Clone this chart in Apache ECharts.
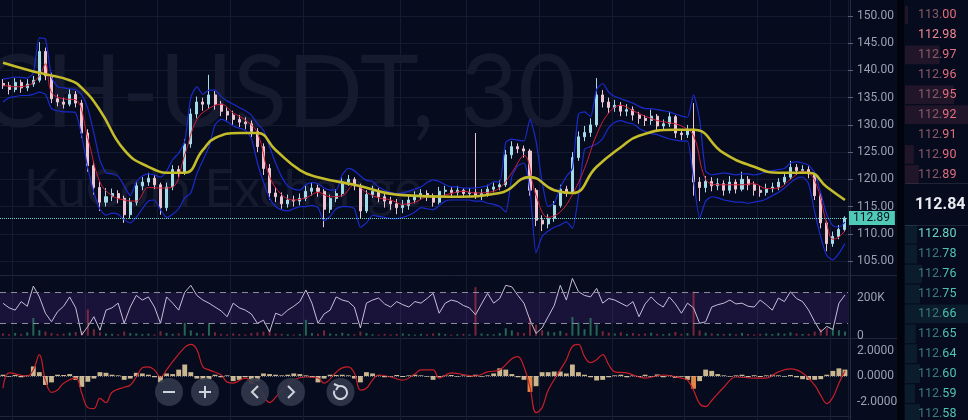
<!DOCTYPE html>
<html>
<head>
<meta charset="utf-8">
<title>BCH-USDT, 30</title>
<script src="https://cdn.jsdelivr.net/npm/echarts@6/dist/echarts.min.js"></script>
<style>
  html, body { margin: 0; padding: 0; background: #060b1e; }
  #chart { width: 968px; height: 420px; }
</style>
</head>
<body>
<div id="chart"></div>
<script>
// 30 min candles (open = previous close)
const firstOpen = 137.6;
const closes = [
  137.2, 136.5, 137.8, 136.8, 137.5, 138.2, 143.5, 139.0, 134.8, 134.2,
  133.8, 135.6, 134.0, 128.5, 122.5, 118.5, 115.8, 116.8, 117.4, 116.5,
  113.5, 115.8, 118.8, 119.5, 120.2, 119.0, 114.8, 118.6, 121.8, 121.2,
  126.5, 132.0, 134.2, 133.8, 135.5, 133.8, 132.5, 131.8, 131.0, 130.5,
  130.2, 128.8, 126.0, 122.0, 117.5, 116.8, 115.5, 116.2, 116.0, 116.5,
  117.8, 118.4, 117.8, 114.5, 116.5, 117.4, 119.5, 120.0, 118.8, 114.2,
  117.2, 117.8, 116.8, 116.0, 115.5, 114.8, 115.2, 116.2, 116.8, 117.4,
  116.9, 115.8, 117.8, 118.0, 117.6, 118.0, 117.4, 117.6, 117.0, 117.4,
  118.2, 118.6, 119.0, 124.5, 126.0, 125.6, 125.2, 118.0, 112.5, 111.8,
  112.8, 115.2, 118.2, 117.6, 124.0, 127.8, 128.6, 130.0, 135.5, 134.2,
  133.2, 133.6, 132.5, 132.8, 131.8, 131.2, 130.8, 131.6, 129.8, 130.2,
  131.5, 128.5, 128.2, 129.2, 119.5, 118.5, 119.6, 118.8, 119.2, 118.0,
  119.5, 118.2, 120.0, 119.0, 118.0, 117.6, 118.3, 118.6, 119.5, 120.4,
  122.2, 121.6, 121.8, 121.0, 117.0, 112.0, 108.2, 109.5, 110.8, 112.89
];
const highs = [
  138.4, 137.9, 138.6, 138.3, 138.4, 139.0, 145.2, 144.2, 139.6, 135.6,
  135.0, 136.6, 136.2, 134.6, 129.2, 123.4, 119.6, 118.4, 118.3, 118.0,
  117.0, 116.6, 119.6, 120.4, 121.2, 120.8, 119.4, 119.4, 122.6, 122.5,
  127.4, 133.0, 135.2, 135.0, 139.2, 136.2, 134.4, 133.2, 132.6, 131.8,
  131.4, 130.8, 129.4, 126.6, 122.8, 118.6, 117.6, 117.2, 117.0, 117.4,
  118.8, 119.4, 119.0, 118.2, 117.2, 118.2, 120.4, 120.8, 120.4, 119.2,
  118.0, 118.8, 118.4, 117.6, 116.8, 116.4, 116.2, 117.0, 117.8, 118.2,
  118.0, 117.4, 118.6, 118.8, 118.6, 118.8, 118.4, 118.4, 128.5, 118.2,
  119.0, 119.4, 119.8, 125.4, 127.0, 126.6, 126.2, 125.6, 118.4, 113.4,
  113.6, 116.0, 119.0, 118.8, 125.0, 128.8, 129.8, 131.2, 138.6, 136.4,
  135.0, 134.6, 134.2, 133.8, 133.4, 132.4, 131.8, 132.8, 132.0, 131.0,
  132.4, 131.8, 129.2, 130.0, 134.0, 120.4, 120.6, 120.4, 120.2, 119.8,
  120.6, 120.0, 121.4, 120.6, 119.6, 118.8, 119.2, 119.4, 120.2, 121.2,
  123.4, 122.8, 122.6, 122.4, 121.4, 117.4, 112.4, 110.4, 111.6, 113.2
];
const lows = [
  136.6, 135.6, 136.0, 135.9, 136.2, 137.0, 137.8, 138.2, 134.0, 133.4,
  133.0, 133.4, 133.2, 127.6, 121.4, 117.2, 114.2, 115.0, 116.0, 115.6,
  112.0, 112.8, 115.2, 118.0, 118.8, 118.2, 113.5, 114.2, 118.0, 120.4,
  120.8, 125.8, 131.2, 132.6, 133.0, 132.8, 131.6, 130.8, 130.0, 129.6,
  129.2, 127.8, 125.0, 120.8, 116.2, 115.8, 114.6, 114.8, 115.0, 115.2,
  116.0, 117.0, 116.8, 111.2, 113.8, 115.8, 116.8, 118.8, 118.0, 112.8,
  113.8, 116.6, 115.8, 114.8, 114.4, 113.6, 113.8, 114.4, 115.6, 116.2,
  116.0, 115.0, 115.4, 117.0, 116.8, 117.0, 116.6, 116.8, 116.4, 116.2,
  116.8, 117.6, 118.0, 118.6, 123.8, 124.8, 124.0, 117.0, 111.4, 110.5,
  111.0, 112.2, 114.8, 116.8, 117.2, 123.4, 127.0, 127.8, 129.6, 133.2,
  132.2, 132.4, 131.6, 131.6, 130.8, 130.2, 129.8, 130.0, 128.8, 129.0,
  129.6, 127.6, 127.2, 127.6, 117.0, 116.0, 117.6, 117.8, 118.0, 117.0,
  117.4, 117.4, 117.8, 118.0, 117.0, 116.8, 117.0, 117.6, 118.0, 119.0,
  120.0, 120.8, 121.0, 120.2, 116.2, 111.0, 106.8, 107.6, 109.0, 110.4
];

// bollinger bands (blue)
const bandUpper = [
  138.4, 138.6, 138.8, 138.7, 138.6, 139.5, 146.0, 145.8, 138.8, 137.0,
  136.8, 136.6, 136.5, 135.5, 133.0, 128.5, 123.5, 121.2, 121.0, 120.6,
  118.8, 117.0, 119.5, 120.6, 121.0, 120.8, 120.4, 121.5, 123.6, 124.8,
  127.0, 135.0, 137.0, 135.6, 136.4, 136.4, 135.2, 134.4, 133.8, 133.2,
  132.6, 131.8, 130.2, 129.0, 126.0, 123.0, 120.5, 118.8, 118.2, 118.0,
  119.0, 119.4, 119.2, 118.4, 118.0, 118.0, 120.8, 122.0, 121.6, 120.6,
  119.8, 119.6, 118.6, 118.0, 117.6, 117.4, 117.5, 117.8, 118.2, 118.6,
  119.4, 119.9, 119.6, 119.0, 118.6, 118.6, 118.4, 118.4, 118.4, 118.6,
  118.8, 119.6, 119.5, 126.8, 127.4, 127.2, 127.0, 131.0, 127.0, 119.5,
  115.0, 115.6, 118.5, 120.5, 122.0, 132.0, 132.4, 131.5, 136.5, 137.6,
  136.0, 135.2, 134.8, 134.4, 134.0, 133.4, 133.0, 133.0, 132.8, 132.6,
  132.4, 132.0, 131.6, 131.4, 135.5, 131.0, 121.5, 120.8, 121.0, 121.2,
  121.0, 120.8, 121.0, 121.0, 120.8, 121.0, 121.4, 121.6, 121.8, 122.0,
  123.0, 123.2, 123.0, 122.6, 121.2, 117.5, 113.5, 111.5, 111.2, 112.2
];
const bandLower = [
  134.2, 135.0, 135.2, 135.4, 135.4, 135.6, 136.0, 135.6, 133.0, 132.6,
  132.4, 132.4, 132.2, 128.0, 122.0, 117.6, 114.5, 113.4, 113.8, 113.6,
  112.6, 112.0, 113.0, 114.6, 116.0, 116.2, 114.4, 113.0, 113.6, 114.6,
  116.6, 117.5, 121.0, 123.5, 126.0, 130.0, 131.0, 130.6, 129.8, 129.4,
  129.0, 127.5, 123.0, 119.5, 116.5, 115.0, 114.4, 114.2, 114.6, 115.0,
  115.0, 115.2, 114.8, 112.4, 113.2, 114.6, 115.0, 115.0, 114.6, 111.2,
  112.0, 113.4, 113.2, 113.0, 112.8, 112.8, 113.0, 113.4, 114.0, 114.8,
  114.6, 114.4, 115.2, 116.0, 116.2, 116.2, 116.2, 116.2, 116.0, 116.0,
  115.6, 115.4, 115.0, 114.0, 120.5, 122.5, 123.0, 118.0, 106.5, 109.5,
  110.5, 111.2, 111.6, 112.2, 111.0, 117.0, 125.5, 126.0, 126.5, 127.5,
  129.5, 130.5, 130.8, 130.4, 130.2, 129.4, 128.8, 128.4, 128.2, 127.8,
  127.4, 127.2, 127.0, 127.0, 120.0, 112.9, 116.0, 116.8, 116.6, 116.2,
  116.0, 115.8, 115.8, 115.6, 115.8, 116.0, 116.4, 117.0, 117.6, 118.4,
  119.4, 120.2, 120.4, 119.2, 114.0, 109.4, 106.0, 105.2, 106.4, 108.2
];

// fast average (red), read at candle indexes
const fastIdx = [0, 2, 4, 6, 7, 8, 10, 12, 14, 16, 18, 20, 22, 24, 26, 28, 30, 32, 34, 36,
  38, 40, 42, 44, 46, 48, 50, 52, 54, 56, 58, 60, 62, 64, 66, 68, 70, 72, 74, 76,
  78, 80, 82, 84, 86, 88, 90, 92, 94, 96, 98, 100, 102, 104, 106, 108, 110, 112, 114, 116,
  118, 120, 122, 124, 126, 128, 130, 132, 134, 136, 137, 138, 139];
const fastVal = [137.3, 137.0, 137.2, 139.0, 141.2, 136.0, 134.8, 134.6, 127.5, 119.5, 117.0, 116.2, 116.0, 118.5, 118.4, 118.6, 124.5, 131.0, 133.0, 133.8,
  132.2, 130.9, 128.5, 120.5, 117.2, 116.2, 116.6, 117.6, 116.8, 117.0, 119.0, 117.6, 116.6, 116.2, 115.4, 115.8, 116.8, 116.9, 117.4, 117.8,
  117.5, 117.6, 118.4, 121.2, 124.4, 117.0, 113.0, 114.0, 117.2, 122.0, 128.2, 132.2, 133.6, 132.6, 131.6, 130.8, 130.4, 129.8, 128.0, 120.0,
  119.0, 119.0, 119.0, 119.2, 118.3, 118.4, 120.0, 121.5, 119.8, 111.8, 109.0, 109.4, 110.6];

// slow average (yellow)
const slowIdx = [0, 5, 7, 11, 13, 16, 20, 24, 28, 30, 33, 35, 39, 42, 45, 49, 52, 58, 66, 74,
  82, 87, 91, 94, 98, 102, 105, 111, 114, 119, 124, 128, 133, 136, 139];
const slowVal = [141.4, 139.8, 139.3, 138.2, 136.8, 132.7, 125.4, 122.3, 121.2, 121.2, 125.4, 127.6, 128.5, 128.5, 125.4, 121.7, 120.4, 119.0, 117.1, 116.8,
  117.5, 120.4, 118.0, 117.5, 122.3, 125.9, 128.0, 129.1, 129.1, 124.8, 122.3, 121.2, 121.2, 118.6, 116.2];

// volume in K
const volumes = [
  12, 8, 15, 10, 18, 95, 30, 22, 14, 9,
  11, 16, 20, 25, 140, 35, 18, 12, 10, 8,
  22, 14, 12, 9, 11, 7, 24, 15, 10, 12,
  68, 28, 15, 12, 68, 18, 10, 8, 12, 9,
  7, 14, 18, 22, 30, 12, 10, 8, 6, 9,
  85, 14, 10, 28, 12, 9, 16, 10, 8, 22,
  14, 8, 6, 10, 7, 9, 12, 8, 6, 10,
  8, 12, 14, 9, 6, 8, 10, 7, 260, 12,
  9, 8, 14, 40, 28, 18, 14, 95, 60, 30,
  22, 18, 26, 14, 100, 70, 35, 95, 60, 24,
  16, 12, 18, 10, 14, 9, 12, 16, 10, 8,
  12, 20, 10, 14, 237, 28, 16, 12, 10, 9,
  11, 8, 14, 9, 7, 10, 12, 9, 14, 11,
  18, 12, 9, 10, 22, 35, 40, 38, 30, 22
];

// oscillator (white line in volume pane)
const osc = [
  55.8, 50, 47, 58, 52, 78, 64, 43, 32, 45,
  52, 64, 50, 15, 26, 38.5, 21, 47, 50, 56,
  30, 51, 66, 60, 64, 51, 30, 64, 56, 47,
  70, 79, 66, 60, 56, 51, 46, 38.5, 56, 50,
  47, 42, 30, 34, 19, 43, 40, 47, 52, 58,
  73, 56, 30, 42, 47, 64, 60, 58, 51, 24,
  56, 60, 62.6, 55, 51, 58, 54, 51, 58, 56,
  62, 68.7, 43, 56, 60, 58, 53, 50, 41, 55,
  68.7, 56, 62, 79, 77, 66, 56, 34, 17, 24,
  38.5, 53, 79, 60, 88, 70.8, 66, 64, 75, 56,
  62, 60, 56, 52, 58, 38.5, 55, 64, 56, 51,
  64, 55, 43, 56, 50, 30, 32, 51, 54, 56,
  60, 55, 56, 52, 51, 60, 54, 47, 62.6, 58,
  70.8, 62, 58, 47, 32, 19, 26, 22, 56, 66.5
];

// MACD line (red) and histogram
const macdIdx = [0, 1, 4, 5, 6, 7, 8, 9, 10, 12, 13, 14, 15, 16, 17, 18, 20, 21, 22, 23,
  24, 25, 26, 27, 28, 30, 31, 32, 33, 34, 36, 37, 38, 40, 41, 42, 43, 44, 45, 46,
  48, 50, 52, 53, 55, 56, 57, 58, 59, 60, 61, 62, 64, 66, 68, 69, 71, 72, 74, 78,
  80, 82, 84, 85, 86, 87, 88, 89, 90, 92, 93, 94, 95, 96, 97, 98, 99, 100, 101, 103,
  106, 109, 112, 113, 114, 115, 116, 117, 119, 121, 124, 126, 128, 130, 132, 134, 135, 136, 137, 138, 139];
const macdVal = [-0.96, 0.24, 0, 0.48, 1.68, -0.32, -1.28, -1.1, -0.56, -0.16, -1.36, -2.48, -2.56, -1.76, -2.08, -1.28, -0.88, -0.72, -0.08, 0.64,
  0.72, 0.48, -0.08, 0.48, 1.12, 2.24, 2.48, 2.08, 0.72, 0.48, 0.08, -0.48, -0.56, -0.16, -0.4, -0.72, -1.52, -2.08, -1.68, -1.12,
  -0.32, -0.08, -0.16, -0.56, 0.3, 0.64, 0.72, 0.24, -1.1, -0.96, -0.32, 0.08, -0.08, -0.32, 0.16, 0.48, 0.48, -0.16, 0.24, 0,
  0.32, 0.48, 1.36, 1.52, 0.72, -0.88, -2.88, -2.48, -1.12, 0.48, 1.28, 2.32, 2.48, 1.52, 1.04, 1.28, 1.68, 0.88, 0.32, 0.24,
  -0.16, 0.08, -0.16, -0.32, -1.12, -2.16, -2.4, -1.92, -0.88, -0.08, -0.16, -0.16, 0.32, 0.56, 0.24, -0.72, -1.52, -2.16, -1.68, -0.56, 0.4];
const hist = [
  0.1, -0.05, 0.08, -0.1, 0.05, 0.75, 0.3, -0.7, -0.5, 0.1,
  0.08, 0.15, -0.3, -0.85, -0.45, -0.2, 0.3, 0.25, 0.1, 0.05,
  -0.3, -0.2, 0.25, 0.2, 0.1, -0.1, -0.5, 0.2, 0.15, 0.5,
  0.9, 0.3, -0.2, -0.3, -0.25, 0.1, -0.1, 0.05, -0.4, -0.3,
  -0.1, -0.6, -0.4, 0.2, 0.15, 0.1, 0.05, 0.1, 0.2, 0.15,
  0.05, -0.1, -0.5, -0.2, 0.1, 0.08, 0.1, 0.05, -0.2, -0.5,
  0.3, 0.2, 0.05, -0.1, -0.05, 0.08, -0.08, 0.05, 0.1, 0.05,
  -0.05, -0.3, -0.1, 0.05, 0.08, -0.05, 0.04, -0.06, 0.1, -0.05,
  0.05, 0.2, 0.6, 0.5, 0.15, -0.1, -0.3, -1.25, -0.8, 0.3,
  0.3, 0.35, 0.35, 0.2, 0.9, 0.3, 0.1, -0.1, -0.35, -0.3,
  -0.1, 0.05, 0.1, -0.1, 0.05, -0.08, 0.1, -0.05, 0.12, -0.1,
  0.08, -0.15, -0.05, -0.3, -1.0, -0.4, 0.5, 0.4, 0.15, 0.05,
  -0.05, 0.05, 0.1, -0.1, 0.06, -0.08, 0.05, 0.1, 0.05, -0.05,
  0.08, -0.1, -0.25, -0.3, -0.3, -0.25, 0.1, 0.4, 0.6, 0.5
];

// order book
const askPrices = ['113.00', '112.98', '112.97', '112.96', '112.95', '112.92', '112.91', '112.90', '112.89'];
const askDepth = [5, 0, 55, 0, 78, 100, 0, 14, 22];
const bidPrices = ['112.80', '112.78', '112.76', '112.75', '112.66', '112.65', '112.64', '112.60', '112.59', '112.58'];
const bidDepth = [19, 19, 27, 24, 100, 17, 19, 24, 16, 24];
const lastTrade = 112.84;
const askHot = 1, bidHot = 0;

const opens = closes.map((c, i) => (i === 0 ? firstOpen : closes[i - 1]));
const cats = closes.map((_, i) => String(i));
const candles = closes.map((c, i) => [opens[i], c, lows[i], highs[i]]);
const pairs = (idx, vals) => idx.map((x, k) => [x, vals[k]]);

const bg = '#060b1e';
const gridLine = '#151b30';
const labelGray = '#9aa1b2';
const vLines = [2, 14, 26, 38, 50, 66, 77, 89, 101, 113, 125, 137];

function timeAxis(gridIndex, lines) {
  return {
    type: 'category', gridIndex: gridIndex, data: cats, boundaryGap: true,
    axisLine: { show: false }, axisTick: { show: false }, axisLabel: { show: false },
    splitLine: { show: !!lines, interval: (i) => vLines.includes(i), lineStyle: { color: gridLine, width: 1 } }
  };
}

const bookRows = askPrices.concat(['', ''], bidPrices);
const bookFont = { fontSize: 12.5, fontFamily: 'Roboto' };
const richBook = {
  ad: Object.assign({ color: '#8a5a69' }, bookFont),
  ab: Object.assign({ color: '#e46f7c' }, bookFont),
  aH: Object.assign({ color: '#f28791' }, bookFont),
  bd: Object.assign({ color: '#3b7c7a' }, bookFont),
  bb: Object.assign({ color: '#4fc4b3' }, bookFont),
  bH: Object.assign({ color: '#68d6c5' }, bookFont)
};

// nav buttons under the chart
const navY = 392;
const navStroke = '#cfd3dc';
const navButtons = [169, 205, 255, 291, 340.5];
const navGraphics = [];
navButtons.forEach((cx) => {
  navGraphics.push({ type: 'circle', z: 100, shape: { cx: cx, cy: navY, r: 14 }, style: { fill: 'rgba(50,57,75,0.9)' } });
});
navGraphics.push(
  { type: 'line', z: 101, shape: { x1: 163, y1: navY, x2: 175, y2: navY }, style: { stroke: navStroke, lineWidth: 2 } },
  { type: 'line', z: 101, shape: { x1: 199, y1: navY, x2: 211, y2: navY }, style: { stroke: navStroke, lineWidth: 2 } },
  { type: 'line', z: 101, shape: { x1: 205, y1: navY - 6, x2: 205, y2: navY + 6 }, style: { stroke: navStroke, lineWidth: 2 } },
  { type: 'polyline', z: 101, shape: { points: [[258, navY - 6], [252, navY], [258, navY + 6]] }, style: { stroke: navStroke, lineWidth: 2, fill: null } },
  { type: 'polyline', z: 101, shape: { points: [[288, navY - 6], [294, navY], [288, navY + 6]] }, style: { stroke: navStroke, lineWidth: 2, fill: null } },
  { type: 'arc', z: 101, shape: { cx: 340.5, cy: navY + 0.5, r: 6.5, startAngle: -Math.PI * 0.62, endAngle: Math.PI * 1.1, clockwise: true }, style: { stroke: navStroke, lineWidth: 2, fill: null } },
  { type: 'polyline', z: 101, shape: { points: [[334, navY - 8], [338.5, navY - 6], [336, navY - 2]] }, style: { stroke: navStroke, lineWidth: 2, fill: null } }
);

const chart = echarts.init(document.getElementById('chart'));
chart.setOption({
  backgroundColor: bg,
  animation: false,
  graphic: { elements: [
    { type: 'text', z: -1, x: 576, y: 95, style: { text: 'BCH-USDT, 30', font: '100px Lato', fill: 'rgba(125,135,165,0.13)', align: 'right', verticalAlign: 'middle' } },
    { type: 'text', z: -1, x: 24, y: 190, style: { text: 'KuCoin Exchange', font: '52px Lato', fill: 'rgba(125,135,165,0.13)', align: 'left', verticalAlign: 'middle' } },
    { type: 'line', shape: { x1: 0, y1: 275.5, x2: 897, y2: 275.5 }, style: { stroke: '#20263a', lineWidth: 1 } },
    { type: 'line', shape: { x1: 0, y1: 338.5, x2: 897, y2: 338.5 }, style: { stroke: '#20263a', lineWidth: 1 } },
    { type: 'line', shape: { x1: 0, y1: 416.5, x2: 850, y2: 416.5 }, style: { stroke: '#20263a', lineWidth: 1 } },
    { type: 'line', shape: { x1: 850.5, y1: 0, x2: 850.5, y2: 420 }, style: { stroke: '#262c40', lineWidth: 1 } },
    { type: 'rect', shape: { x: 897, y: 0, width: 7, height: 420 }, style: { fill: '#02040d' } },
    { type: 'line', shape: { x1: 905, y1: 183.5, x2: 968, y2: 183.5 }, style: { stroke: '#1e2436', lineWidth: 1 } },
    { type: 'line', shape: { x1: 905, y1: 225.5, x2: 968, y2: 225.5 }, style: { stroke: '#1e2436', lineWidth: 1 } },
    { type: 'text', x: 915, y: 205, style: { text: lastTrade.toFixed(2), font: 'bold 16px Roboto', fill: '#e9ebf1', align: 'left', verticalAlign: 'middle' } }
  ].concat(navGraphics) },
  grid: [
    { left: 0, width: 848, top: 16, height: 245 },
    { left: 0, width: 848, top: 276, height: 59.7 },
    { left: 0, width: 848, top: 276.8, height: 62 },
    { left: 0, width: 848, top: 335.2, height: 81.6 },
    { left: 905, width: 63, top: 15, height: 401 },
    { left: 0, width: 848, top: 0, height: 420 }
  ],
  xAxis: [
    timeAxis(0, false), timeAxis(1, false), timeAxis(2, false), timeAxis(3, false),
    { type: 'value', gridIndex: 4, min: 0, max: 100, show: false },
    timeAxis(5, true)
  ],
  yAxis: [
    {
      type: 'value', gridIndex: 0, position: 'right', min: 105, max: 150, interval: 5,
      axisLine: { show: false },
      axisTick: { show: true, length: 5, lineStyle: { color: '#59607a' } },
      axisLabel: { color: labelGray, fontSize: 12, fontFamily: 'Roboto', margin: 9, formatter: (v) => v.toFixed(2) },
      splitLine: { show: true, lineStyle: { color: gridLine } }
    },
    {
      type: 'value', gridIndex: 1, position: 'right', min: 0, max: 320, interval: 200,
      axisLine: { show: false }, axisTick: { show: false }, splitLine: { show: false },
      axisLabel: {
        color: labelGray, fontSize: 12, fontFamily: 'Roboto', margin: 9, showMaxLabel: false,
        verticalAlignMinLabel: 'middle',
        formatter: (v) => (v === 0 ? '0' : v === 200 ? '200K' : '')
      }
    },
    { type: 'value', gridIndex: 2, min: 10, max: 90, show: false },
    {
      type: 'value', gridIndex: 3, position: 'right', min: -3.2, max: 3.2, interval: 0.4,
      axisLine: { show: false }, axisTick: { show: false }, splitLine: { show: false },
      axisLabel: {
        color: labelGray, fontSize: 12, fontFamily: 'Roboto', margin: 9,
        formatter: (v) => { const r = Math.round(v * 10) / 10; return (r === 2 || r === 0 || r === -2) ? r.toFixed(4) : ''; }
      }
    },
    {
      type: 'category', gridIndex: 4, position: 'left', inverse: true, boundaryGap: false, data: bookRows, z: 10,
      axisLine: { show: false }, axisTick: { show: false }, splitLine: { show: false },
      axisLabel: {
        inside: true, margin: 13,
        formatter: (v, i) => {
          if (!v) return '';
          const ask = i < askPrices.length;
          const hot = ask ? i === askHot : i - askPrices.length - 2 === bidHot;
          if (hot) return '{' + (ask ? 'aH' : 'bH') + '|' + v + '}';
          return '{' + (ask ? 'ad' : 'bd') + '|' + v.slice(0, 4) + '}{' + (ask ? 'ab' : 'bb') + '|' + v.slice(4) + '}';
        },
        rich: richBook
      }
    },
    { type: 'value', gridIndex: 5, show: false }
  ],
  series: [
    {
      type: 'line', name: 'BB upper', xAxisIndex: 0, yAxisIndex: 0, data: bandUpper, symbol: 'none', smooth: 0.2,
      lineStyle: { color: '#1a2bcc', width: 1.2 }
    },
    {
      type: 'line', name: 'BB lower', xAxisIndex: 0, yAxisIndex: 0, data: bandLower, symbol: 'none', smooth: 0.2,
      lineStyle: { color: '#1a2bcc', width: 1.2 }
    },
    {
      type: 'candlestick', name: 'price', xAxisIndex: 0, yAxisIndex: 0, data: candles, barWidth: '42%',
      itemStyle: { color: '#a4dbe8', color0: '#ecc7d2', borderColor: '#a4dbe8', borderColor0: '#ecc7d2', borderWidth: 1 },
      markLine: {
        symbol: 'none', silent: true,
        data: [{ yAxis: closes[closes.length - 1] }],
        lineStyle: { type: 'dotted', color: '#66d4c8', width: 1 },
        label: {
          position: 'end', distance: 1, formatter: (p) => p.value.toFixed(2),
          backgroundColor: '#4fcab5', color: '#0a1024', fontSize: 12, fontFamily: 'Roboto',
          padding: [1, 5, 0, 4], lineHeight: 13
        }
      }
    },
    {
      type: 'line', name: 'MA fast', xAxisIndex: 0, yAxisIndex: 0, data: pairs(fastIdx, fastVal), symbol: 'none', smooth: 0.4,
      lineStyle: { color: '#d21f38', width: 1 }, z: 4
    },
    {
      type: 'line', name: 'MA slow', xAxisIndex: 0, yAxisIndex: 0, data: pairs(slowIdx, slowVal), symbol: 'none', smooth: 0.5,
      lineStyle: { color: '#c4bc2a', width: 2.6 }, z: 5
    },
    {
      type: 'bar', name: 'volume', xAxisIndex: 1, yAxisIndex: 1, barWidth: 2,
      data: volumes.map((v, i) => ({ value: v, itemStyle: { color: closes[i] >= opens[i] ? 'rgba(50,140,110,0.7)' : 'rgba(160,48,70,0.75)' } }))
    },
    {
      type: 'line', name: 'osc', xAxisIndex: 2, yAxisIndex: 2, data: osc, symbol: 'none',
      lineStyle: { color: '#c9bcd8', width: 1 },
      markArea: { silent: true, itemStyle: { color: 'rgba(104,56,170,0.2)' }, data: [[{ yAxis: 30 }, { yAxis: 70 }]] },
      markLine: {
        symbol: 'none', silent: true, label: { show: false },
        lineStyle: { color: '#8a8ca2', type: [6, 5], width: 1 },
        data: [{ yAxis: 30 }, { yAxis: 70 }]
      }
    },
    {
      type: 'bar', name: 'hist', xAxisIndex: 3, yAxisIndex: 3, barWidth: '80%',
      data: hist.map((v) => ({ value: v, itemStyle: { color: v < -0.9 ? '#e08846' : '#cbb78f' } })),
      markLine: {
        symbol: 'none', silent: true, label: { show: false },
        lineStyle: { color: 'rgba(210,210,220,0.45)', type: 'dotted', width: 1 },
        data: [{ yAxis: 0 }]
      }
    },
    {
      type: 'line', name: 'macd', xAxisIndex: 3, yAxisIndex: 3, data: pairs(macdIdx, macdVal), symbol: 'none', smooth: 0.4,
      lineStyle: { color: '#c81f28', width: 1.2 }, z: 4
    },
    {
      type: 'bar', name: 'asks', xAxisIndex: 4, yAxisIndex: 4, barCategoryGap: '6%', barGap: '-100%', clip: false,
      data: bookRows.map((r, i) => (i < askPrices.length ? askDepth[i] : '-')),
      itemStyle: { color: 'rgba(205,90,115,0.13)' }
    },
    {
      type: 'bar', name: 'bids', xAxisIndex: 4, yAxisIndex: 4, barCategoryGap: '6%', barGap: '-100%', clip: false,
      data: bookRows.map((r, i) => (i >= askPrices.length + 2 ? bidDepth[i - askPrices.length - 2] : '-')),
      itemStyle: { color: 'rgba(60,190,175,0.10)' }
    }
  ]
});
</script>
</body>
</html>
